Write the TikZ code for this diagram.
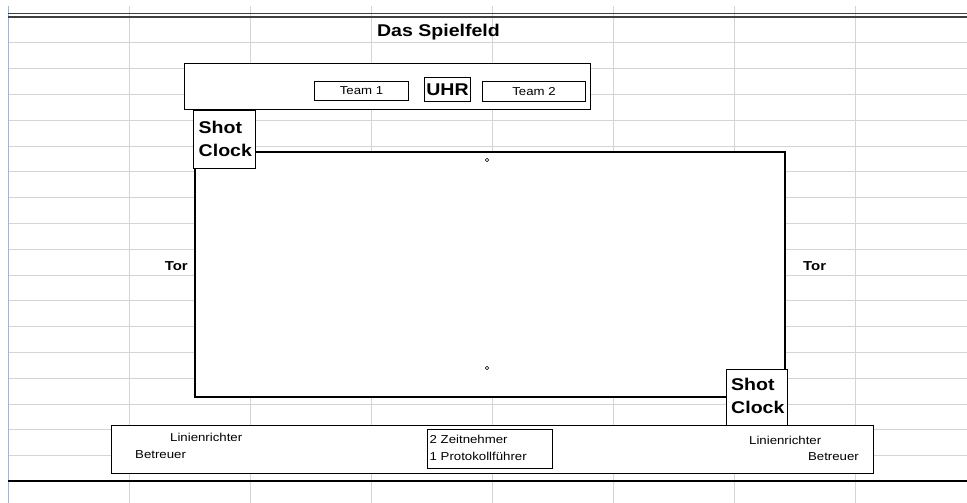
\documentclass[tikz,border=0pt]{standalone}
\usepackage{fontspec}
\setmainfont{Liberation Sans}[FakeStretch=1.15]
\definecolor{leftline}{RGB}{165,180,205}
\begin{document}
\begin{tikzpicture}[x=1pt,y=-1pt,
  grid/.style={draw=black!17, line width=0.8pt},
  box/.style={draw=black, fill=white, line width=1.3pt, inner sep=0pt, anchor=north west},
  big/.style={font=\bfseries\fontsize{17}{21}\selectfont},
  small/.style={font=\fontsize{11.5}{16}\selectfont, inner sep=0pt},
  torlbl/.style={font=\bfseries\fontsize{13}{15}\selectfont, inner sep=0pt}]
\useasboundingbox (0,0) rectangle (967,503);
\fill[white] (0,0) rectangle (967,503);
% spreadsheet grid
\foreach \k in {1,...,17} \draw[grid] (8,17+25.8*\k) -- (967,17+25.8*\k);
\foreach \x in {129.5,250.5,371.5,492.5,613.5,734.5,855.5} \draw[grid] (\x,6) -- (\x,503);
\draw[draw=leftline, line width=1pt] (8,6) -- (8,503);
% top double line and bottom thick line
\draw[line width=1.1pt, black!75] (8,13.5) -- (967,13.5);
\draw[line width=1.1pt, black!75] (8,17) -- (967,17);
\draw[line width=2.4pt] (8,481) -- (967,481);
% title
\node[big, inner sep=0pt] (title) at (438.5,32) {Das Spielfeld};
% top box
\node[box, minimum width=406pt, minimum height=46pt] (topbox) at (184,63) {};
\node[box, line width=1.1pt, minimum width=94pt, minimum height=19pt] (team1) at (314,81) {};
\node[small] (team1t) at (team1.center) {Team 1};
\node[box, line width=1.1pt, minimum width=46pt, minimum height=24pt] (uhr) at (424,77) {};
\node[big, inner sep=0pt] (uhrt) at ([yshift=-0.5pt]uhr.center) {UHR};
\node[box, line width=1.1pt, minimum width=103pt, minimum height=20pt] (team2) at (482,81) {};
\node[small] (team2t) at (team2.center) {Team 2};
% field
\node[box, line width=1.5pt, minimum width=590pt, minimum height=245pt] (field) at (194,151) {};
\draw[line width=0.6pt] (487,160) circle (1.8pt);
\draw[line width=0.6pt] (487,368) circle (1.8pt);
% shot clocks
\node[box, minimum width=62pt, minimum height=58pt] (sc1) at (193,110) {};
\node[big, inner sep=0pt, anchor=west, align=left] (sc1t) at (198.5,139) {Shot\\[1.5pt]Clock};
\node[box, minimum width=61pt, minimum height=59pt] (sc2) at (726,369) {};
\node[big, inner sep=0pt, anchor=west, align=left] (sc2t) at (731,396) {Shot\\[1.5pt]Clock};
% Tor labels
\node[torlbl, anchor=east] (torl) at (188,266) {Tor};
\node[torlbl, anchor=west] (torr) at (803,266) {Tor};
% bottom box
\node[box, minimum width=762pt, minimum height=48pt] (botbox) at (111,425) {};
\node[box, line width=1.1pt, minimum width=125pt, minimum height=39pt] (zeit) at (427,429) {};
\node[small, anchor=west] (z1) at (429.5,439) {2 Zeitnehmer};
\node[small, anchor=west] (z2) at (429.5,456) {1 Protokollführer};
\node[small, anchor=west] (l1) at (170,437.5) {Linienrichter};
\node[small, anchor=west] (b1) at (135,454.5) {Betreuer};
\node[small, anchor=west] (l2) at (749,440) {Linienrichter};
\node[small, anchor=east] (b2) at (859,456.5) {Betreuer};
\end{tikzpicture}
\end{document}
